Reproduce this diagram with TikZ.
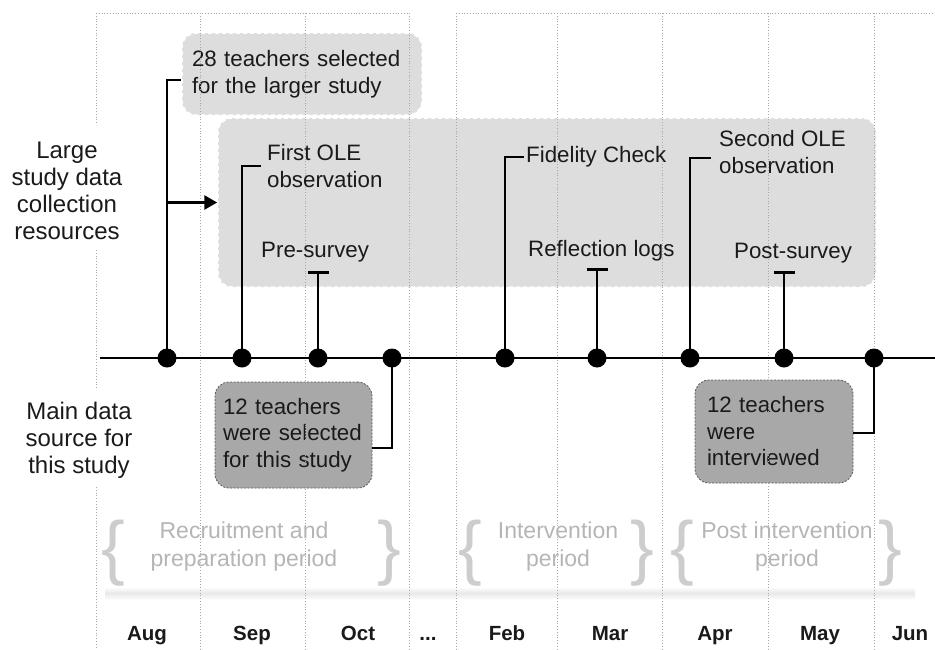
\documentclass[tikz,border=0pt]{standalone}
\usepackage{fontspec}
\setmainfont{Liberation Sans}
\usetikzlibrary{arrows.meta,calc}
\definecolor{boxlight}{HTML}{DDDDDD}
\definecolor{boxdark}{HTML}{A8A8A8}
\definecolor{gridc}{HTML}{A8A8A8}
\definecolor{periodc}{HTML}{B5B5B5}
\definecolor{bracec}{HTML}{CDCDCD}
\definecolor{ink}{HTML}{1A1A1A}
\newcommand\mybodyfont{\fontsize{22.3}{26.5}\selectfont\hyphenpenalty=10000\exhyphenpenalty=10000}
\newcommand\mysidefont{\fontsize{24}{27}\selectfont}
\newcommand\myperiodfont{\fontsize{23}{28}\selectfont}
\newcommand\mybracefont{\fontsize{71}{71}\selectfont}
\newcommand\mymonthfont{\fontsize{20.5}{24}\selectfont\bfseries}
\begin{document}
\begin{tikzpicture}[x=1pt,y=-1pt,
  gridline/.style={gridc, dotted, line width=0.8pt},
  lightbox/.style={fill=boxlight, draw=white, dash pattern=on 4pt off 3pt, line width=1.5pt, rounded corners=14pt},
  darkbox/.style={fill=boxdark, draw=gray!70!black, dash pattern=on 2pt off 1.5pt, line width=0.8pt, rounded corners=14pt, align=left, font=\mybodyfont, text=ink},
  lbl/.style={font=\mybodyfont, text=ink, inner sep=0pt, align=left},
  sidelbl/.style={font=\mysidefont, text=ink, align=center, inner sep=0pt},
  periodlbl/.style={font=\myperiodfont, text=periodc, align=center, inner sep=0pt},
  bracelbl/.style={font=\mybracefont, text=bracec, inner sep=0pt},
  monthlbl/.style={font=\mymonthfont, text=ink, inner sep=0pt, anchor=base},
  dot/.style={circle, fill=black, minimum size=19pt, inner sep=0pt},
  conn/.style={line width=2.8pt, black},
  tconn/.style={conn, -{Bar[width=21pt, line width=2.8pt]}},
]
\useasboundingbox (0,0) rectangle (935,649);

% boxes
\node[lightbox, minimum width=658pt, minimum height=169pt] (big) at (547,202.5) {};
\node[lightbox, minimum width=240pt, minimum height=82pt, inner xsep=10pt, text width=220pt, align=left, font=\mybodyfont, text=ink] (box28) at (302,74) {28 teachers selected\\for the larger study};
\node[darkbox, minimum width=157pt, minimum height=106pt, inner xsep=8pt, text width=141pt] (sel12) at (293.5,435) {12 teachers\\were selected\\for this study};
\node[darkbox, minimum width=158pt, minimum height=103pt, inner xsep=12pt, text width=134pt] (int12) at (774,431.5) {12 teachers\\were\\interviewed};

% period shadow strip
\shade[top color=white, bottom color=gray!18] (105,587) rectangle (915,593);
\shade[top color=gray!18, bottom color=white] (105,593) rectangle (915,600);

% grid
\draw[gridline] (96,13) -- (409,13);
\draw[gridline] (456,13) -- (935,13);
\draw[gridline] (96,13) -- (96,125);
\draw[gridline] (96,250) -- (96,390);
\draw[gridline] (96,487) -- (96,649);
\foreach \gx in {200,305,409,456,557,662,768,874}{
  \draw[gridline] (\gx,13) -- (\gx,649);
}

% timeline
\coordinate (tlstart) at (100,358);
\coordinate (tlend) at (935,358);
\draw[line width=2.8pt] (tlstart) -- (tlend);

% dots
\node[dot] (d1) at (167,358) {};
\node[dot] (d2) at (242,358) {};
\node[dot] (d3) at (318,358) {};
\node[dot] (d4) at (392,358) {};
\node[dot] (d5) at (505,358) {};
\node[dot] (d6) at (597,358) {};
\node[dot] (d7) at (690,358) {};
\node[dot] (d8) at (784,358) {};
\node[dot] (d9) at (874,358) {};

% texts in big box
\node[lbl, anchor=west] (tfirst) at (267,166) {First OLE\\observation};
\node[lbl, anchor=west] (tpre) at (261,252) {Pre-survey};
\node[lbl, anchor=west] (tfid) at (526,157) {Fidelity Check};
\node[lbl, anchor=west] (trefl) at (528,251) {Reflection logs};
\node[lbl, anchor=west] (tsecond) at (719,152) {Second OLE\\observation};
\node[lbl, anchor=west] (tpost) at (734,253) {Post-survey};

% side labels
\node[sidelbl] (large) at (67,191) {Large\\study data\\collection\\resources};
\node[sidelbl] (main) at (79,440) {Main data\\source for\\this study};

% periods
\node[periodlbl] (p1) at (244,547) {Recruitment and\\preparation period};
\node[periodlbl] (p2) at (558,547) {Intervention\\period};
\node[periodlbl] (p3) at (787,547) {Post intervention\\period};
\node[bracelbl] (b1l) at (113,553) {\{};
\node[bracelbl] (b1r) at (389,553) {\}};
\node[bracelbl] (b2l) at (470,553) {\{};
\node[bracelbl] (b2r) at (642,553) {\}};
\node[bracelbl] (b3l) at (682,553) {\{};
\node[bracelbl] (b3r) at (890,553) {\}};

% months
\node[monthlbl] (mAug) at (147,640) {Aug};
\node[monthlbl] (mSep) at (252,640) {Sep};
\node[monthlbl] (mOct) at (358,640) {Oct};
\node[monthlbl] (mDots) at (428,640) {...};
\node[monthlbl] (mFeb) at (507,640) {Feb};
\node[monthlbl] (mMar) at (610,640) {Mar};
\node[monthlbl] (mApr) at (715,640) {Apr};
\node[monthlbl] (mMay) at (820,640) {May};
\node[monthlbl] (mJun) at (910,640) {Jun};

% connectors
\draw[conn] (d1.center) |- ([yshift=-6pt]box28.west);
\draw[conn, -{Triangle[length=13pt,width=14pt]}] (d1.center |- big.west) -- (big.west);
\draw[conn] (d2.center) |- ([xshift=-6pt]tfirst.west);
\coordinate (pret) at (318,271);
\draw[tconn] (d3.center) -- (pret);
\draw[conn] (d4.center) |- ([yshift=-13pt]sel12.east);
\draw[conn] (d5.center) |- ([xshift=-2pt]tfid.west);
\coordinate (reflt) at (597,268);
\draw[tconn] (d6.center) -- (reflt);
\draw[conn] (d7.center) |- ([xshift=-8pt,yshift=-6pt]tsecond.west);
\coordinate (postt) at (784,271);
\draw[tconn] (d8.center) -- (postt);
\draw[conn] (d9.center) |- ([yshift=-1.5pt]int12.east);
\end{tikzpicture}
\end{document}
